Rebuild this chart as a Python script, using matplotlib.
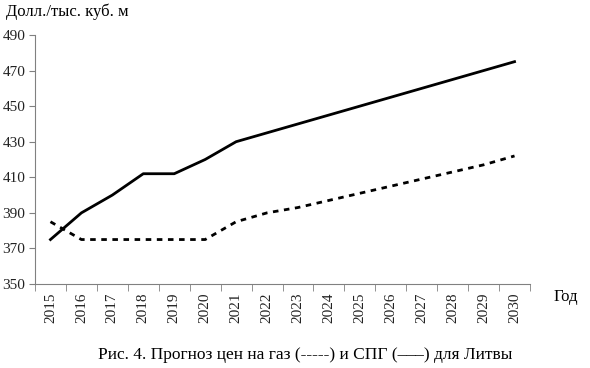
import matplotlib
matplotlib.use('Agg')
import matplotlib.pyplot as plt
import numpy as np

plt.rcParams['font.family'] = ['Liberation Serif', 'DejaVu Serif']

# Data
years = ['2015', '2016', '2017', '2018', '2019', '2020', '2021', '2022',
         '2023', '2024', '2025', '2026', '2027', '2028', '2029', '2030']
lng = [375, 390, 400, 412, 412, 420, 430, 435, 440, 445, 450, 455, 460, 465, 470, 475]
gas = [385, 375, 375, 375, 375, 375, 385, 390, 393, 397, 401, 405, 409, 413, 417, 422]

fig = plt.figure(figsize=(5.9, 3.68), dpi=100)
ax = fig.add_axes([35/590, 1 - 284/368, 495/590, 249/368])

x = np.arange(len(years))
ax.plot(x, lng, color='black', lw=2)
ax.plot(x, gas, color='black', lw=2, linestyle=(0, (2, 2)))

ax.set_xlim(-0.5, len(years) - 0.5)
ax.set_ylim(350, 490)
ax.set_yticks(range(350, 491, 20))

# category labels centered, tick marks between categories
ax.set_xticks(x)
ax.set_xticklabels(years, rotation=90)
ax.set_xticks(np.arange(-0.5, len(years)), minor=True)
ax.tick_params(axis='x', which='major', length=0, pad=6, labelsize=11, labelcolor='#222222')
ax.tick_params(axis='x', which='minor', length=5, color='#808080')
ax.tick_params(axis='y', length=4, color='#808080', labelsize=11, pad=3, labelcolor='#222222')

for s in ['top', 'right']:
    ax.spines[s].set_visible(False)
for s in ['left', 'bottom']:
    ax.spines[s].set_color('#808080')

fig.text(6/590, 1 - 12/368, 'Долл./тыс. куб. м', fontsize=12, va='center', ha='left')
fig.text(566/590, 1 - 297/368, 'Год', fontsize=12, va='center', ha='center')
fig.text(0.518, 1 - 355/368, 'Рис. 4. Прогноз цен на газ (-----) и СПГ (–––) для Литвы',
         fontsize=12.5, va='center', ha='center')

fig.savefig('out.png', dpi=100)
